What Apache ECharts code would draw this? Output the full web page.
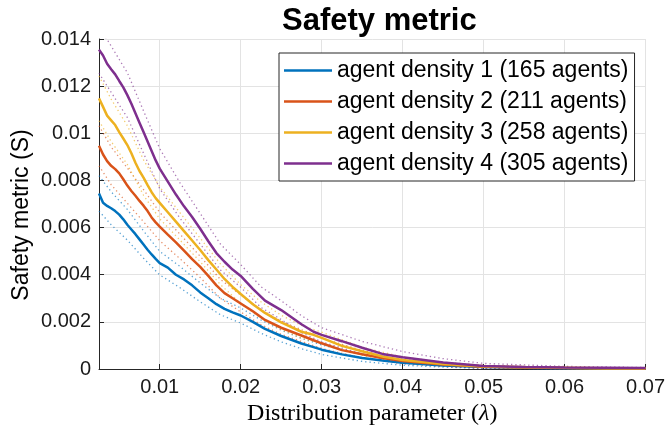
<!DOCTYPE html>
<html><head><meta charset="utf-8">
<script src="https://cdn.jsdelivr.net/npm/echarts@6/dist/echarts.min.js"></script>
<style>html,body{margin:0;padding:0;background:#fff}#c{width:668px;height:431px}</style>
</head><body><div id="c"></div>
<script>
// Distribution parameter (lambda) samples for the mean curves
const lambda = [0.0025, 0.003, 0.0035, 0.004, 0.0045, 0.005, 0.0055, 0.006, 0.0065, 0.007,
  0.0075, 0.008, 0.0085, 0.009, 0.0095, 0.010, 0.011, 0.012, 0.013, 0.014, 0.015, 0.016,
  0.017, 0.018, 0.019, 0.020, 0.0215, 0.023, 0.025, 0.0275, 0.029, 0.030, 0.0325, 0.035,
  0.0375, 0.040, 0.045, 0.050, 0.055, 0.060, 0.065, 0.070];

const density1 = [7.45e-3, 7.05e-3, 6.92e-3, 6.82e-3, 6.70e-3, 6.55e-3, 6.35e-3, 6.12e-3, 5.92e-3, 5.72e-3,
  5.50e-3, 5.28e-3, 5.06e-3, 4.86e-3, 4.67e-3, 4.49e-3, 4.30e-3, 4.00e-3, 3.80e-3, 3.55e-3, 3.25e-3, 3.00e-3,
  2.75e-3, 2.55e-3, 2.40e-3, 2.27e-3, 2.00e-3, 1.70e-3, 1.40e-3, 1.08e-3, 0.93e-3, 0.82e-3, 0.62e-3, 0.47e-3,
  0.36e-3, 0.27e-3, 0.15e-3, 0.08e-3, 0.05e-3, 0.03e-3, 0.02e-3, 0.015e-3];
const density2 = [9.47e-3, 9.10e-3, 8.82e-3, 8.62e-3, 8.48e-3, 8.30e-3, 8.05e-3, 7.78e-3, 7.55e-3, 7.35e-3,
  7.13e-3, 6.93e-3, 6.70e-3, 6.43e-3, 6.22e-3, 6.04e-3, 5.70e-3, 5.37e-3, 5.02e-3, 4.66e-3, 4.33e-3, 3.95e-3,
  3.55e-3, 3.22e-3, 3.00e-3, 2.78e-3, 2.45e-3, 2.08e-3, 1.75e-3, 1.42e-3, 1.22e-3, 1.09e-3, 0.80e-3, 0.63e-3,
  0.47e-3, 0.34e-3, 0.19e-3, 0.10e-3, 0.06e-3, 0.04e-3, 0.03e-3, 0.02e-3];
const density3 = [11.48e-3, 11.12e-3, 10.75e-3, 10.55e-3, 10.35e-3, 10.05e-3, 9.78e-3, 9.50e-3, 9.15e-3, 8.75e-3,
  8.40e-3, 8.12e-3, 7.80e-3, 7.50e-3, 7.25e-3, 7.05e-3, 6.65e-3, 6.25e-3, 5.85e-3, 5.45e-3, 5.05e-3, 4.62e-3,
  4.22e-3, 3.82e-3, 3.48e-3, 3.18e-3, 2.75e-3, 2.38e-3, 1.98e-3, 1.58e-3, 1.45e-3, 1.32e-3, 0.98e-3, 0.75e-3,
  0.53e-3, 0.38e-3, 0.21e-3, 0.11e-3, 0.07e-3, 0.05e-3, 0.03e-3, 0.02e-3];
const density4 = [13.55e-3, 13.30e-3, 12.95e-3, 12.72e-3, 12.50e-3, 12.22e-3, 11.95e-3, 11.62e-3, 11.25e-3, 10.85e-3,
  10.45e-3, 10.05e-3, 9.65e-3, 9.25e-3, 8.85e-3, 8.50e-3, 7.95e-3, 7.40e-3, 6.90e-3, 6.45e-3, 5.95e-3, 5.42e-3,
  4.92e-3, 4.55e-3, 4.22e-3, 3.95e-3, 3.40e-3, 2.90e-3, 2.50e-3, 1.90e-3, 1.58e-3, 1.45e-3, 1.18e-3, 0.90e-3,
  0.64e-3, 0.50e-3, 0.28e-3, 0.13e-3, 0.08e-3, 0.06e-3, 0.05e-3, 0.04e-3];

// Dotted bound curves (upper / lower), sampled more coarsely
const boundLambda = [0.0025, 0.004, 0.006, 0.008, 0.010, 0.0125, 0.015, 0.0175, 0.020, 0.0225,
  0.025, 0.0275, 0.030, 0.035, 0.040, 0.045, 0.050, 0.060, 0.070];
const upper1 = [8.20e-3, 7.52e-3, 6.77e-3, 5.86e-3, 4.99e-3, 4.35e-3, 3.65e-3, 3.00e-3, 2.59e-3, 2.08e-3,
  1.65e-3, 1.30e-3, 1.02e-3, 0.62e-3, 0.38e-3, 0.22e-3, 0.13e-3, 0.055e-3, 0.027e-3];
const lower1 = [6.70e-3, 6.12e-3, 5.47e-3, 4.70e-3, 3.99e-3, 3.45e-3, 2.85e-3, 2.30e-3, 1.95e-3, 1.52e-3,
  1.15e-3, 0.86e-3, 0.62e-3, 0.32e-3, 0.16e-3, 0.08e-3, 0.03e-3, 0.005e-3, 0.003e-3];
const upper2 = [10.32e-3, 9.42e-3, 8.53e-3, 7.61e-3, 6.64e-3, 5.72e-3, 4.78e-3, 3.80e-3, 3.14e-3, 2.52e-3,
  2.03e-3, 1.67e-3, 1.31e-3, 0.79e-3, 0.46e-3, 0.27e-3, 0.15e-3, 0.065e-3, 0.032e-3];
const lower2 = [8.62e-3, 7.82e-3, 7.03e-3, 6.25e-3, 5.44e-3, 4.68e-3, 3.88e-3, 3.00e-3, 2.42e-3, 1.88e-3,
  1.47e-3, 1.17e-3, 0.87e-3, 0.47e-3, 0.22e-3, 0.11e-3, 0.05e-3, 0.015e-3, 0.008e-3];
const upper3 = [12.43e-3, 11.45e-3, 10.32e-3, 8.87e-3, 7.73e-3, 6.63e-3, 5.55e-3, 4.46e-3, 3.58e-3, 2.85e-3,
  2.28e-3, 1.85e-3, 1.56e-3, 0.92e-3, 0.51e-3, 0.29e-3, 0.16e-3, 0.075e-3, 0.032e-3];
const lower3 = [10.53e-3, 9.65e-3, 8.68e-3, 7.37e-3, 6.37e-3, 5.47e-3, 4.55e-3, 3.58e-3, 2.78e-3, 2.15e-3,
  1.68e-3, 1.31e-3, 1.08e-3, 0.58e-3, 0.25e-3, 0.13e-3, 0.06e-3, 0.025e-3, 0.008e-3];
const upper4 = [14.55e-3, 13.70e-3, 12.57e-3, 10.95e-3, 9.35e-3, 7.90e-3, 6.60e-3, 5.30e-3, 4.43e-3, 3.49e-3,
  2.90e-3, 2.26e-3, 1.75e-3, 1.17e-3, 0.74e-3, 0.44e-3, 0.24e-3, 0.11e-3, 0.06e-3];
const lower4 = [12.55e-3, 11.74e-3, 10.67e-3, 9.15e-3, 7.65e-3, 6.40e-3, 5.30e-3, 4.20e-3, 3.47e-3, 2.61e-3,
  2.10e-3, 1.54e-3, 1.15e-3, 0.63e-3, 0.26e-3, 0.12e-3, 0.02e-3, 0.01e-3, 0.02e-3];

const seriesNames = ['agent density 1 (165 agents)', 'agent density 2 (211 agents)',
  'agent density 3 (258 agents)', 'agent density 4 (305 agents)'];
const colors = ['#0072BD', '#D95319', '#EDB120', '#7E2F8E'];
const xTicks = [0.01, 0.02, 0.03, 0.04, 0.05, 0.06, 0.07];

const means = [density1, density2, density3, density4];
const uppers = [upper1, upper2, upper3, upper4];
const lowers = [lower1, lower2, lower3, lower4];

const FONT = 'Liberation Sans, Arial, Helvetica, sans-serif';
const SERIF = 'Liberation Serif, Times New Roman, serif';
const pairs = (xs, ys) => xs.map((x, i) => [x, ys[i]]);

const series = [];
for (let k = 0; k < 4; k++) {
  [['upper', uppers[k]], ['lower', lowers[k]]].forEach(([tag, arr]) => {
    series.push({
      name: seriesNames[k] + ' ' + tag, type: 'line', data: pairs(boundLambda, arr),
      symbol: 'none', showSymbol: false, silent: true, z: 2,
      lineStyle: { color: colors[k], width: 1.3, type: [1.3, 3], opacity: 0.65 }
    });
  });
}
for (let k = 0; k < 4; k++) {
  series.push({
    name: seriesNames[k], type: 'line', data: pairs(lambda, means[k]),
    symbol: 'none', showSymbol: false, z: 3,
    itemStyle: { color: colors[k] },
    lineStyle: { color: colors[k], width: 2.5 }
  });
}

const chart = echarts.init(document.getElementById('c'), null, { renderer: 'canvas' });
chart.setOption({
  animation: false,
  backgroundColor: '#fff',
  title: {
    text: 'Safety metric', left: 277, top: 1,
    textStyle: { fontFamily: FONT, fontSize: 31, fontWeight: 'bold', color: '#000' }
  },
  grid: { left: 99, right: 21, top: 39, bottom: 62 },
  legend: {
    data: seriesNames, orient: 'vertical', left: 279, top: 53,
    padding: [6, 6, 6, 5], itemWidth: 48, itemHeight: 2.5, itemGap: 8, icon: 'rect',
    backgroundColor: '#fff', borderColor: '#262626', borderWidth: 1, borderRadius: 0,
    textStyle: { fontFamily: FONT, fontSize: 23, lineHeight: 22, color: '#000' }
  },
  xAxis: {
    type: 'value', min: 0.0025, max: 0.07,
    name: '{n|Distribution parameter (}{l|\u03BB}{n|)}', nameLocation: 'middle', nameGap: 28,
    nameTextStyle: {
      fontFamily: SERIF, fontSize: 24, color: '#000',
      rich: {
        n: { fontFamily: SERIF, fontSize: 24, color: '#000' },
        l: { fontFamily: SERIF, fontSize: 24, color: '#000', fontStyle: 'italic' }
      }
    },
    axisLine: { show: true, onZero: false, lineStyle: { color: '#262626', width: 1 } },
    axisTick: { show: true, inside: true, length: 5, customValues: xTicks, lineStyle: { color: '#262626' } },
    axisLabel: { customValues: xTicks, fontFamily: FONT, fontSize: 20, color: '#1a1a1a', margin: 8,
      formatter: v => String(parseFloat(v.toFixed(2))) },
    splitLine: { show: true, lineStyle: { color: '#e3e3e3', width: 1 } }
  },
  yAxis: {
    type: 'value', min: 0, max: 0.014, interval: 0.002,
    axisLine: { show: true, onZero: false, lineStyle: { color: '#262626', width: 1 } },
    axisTick: { show: true, inside: true, length: 5, lineStyle: { color: '#262626' } },
    axisLabel: { fontFamily: FONT, fontSize: 20, color: '#1a1a1a', margin: 8,
      formatter: v => v === 0 ? '0' : String(parseFloat(v.toFixed(3))) },
    splitLine: { show: true, lineStyle: { color: '#e3e3e3', width: 1 } }
  },
  graphic: [{
    type: 'text', x: 22, y: 215, rotation: Math.PI / 2,
    style: { text: 'Safety metric (S)', fontFamily: FONT, fontSize: 23, fill: '#000',
      align: 'center', verticalAlign: 'middle' }
  }],
  series: series
});
</script>
</body></html>
